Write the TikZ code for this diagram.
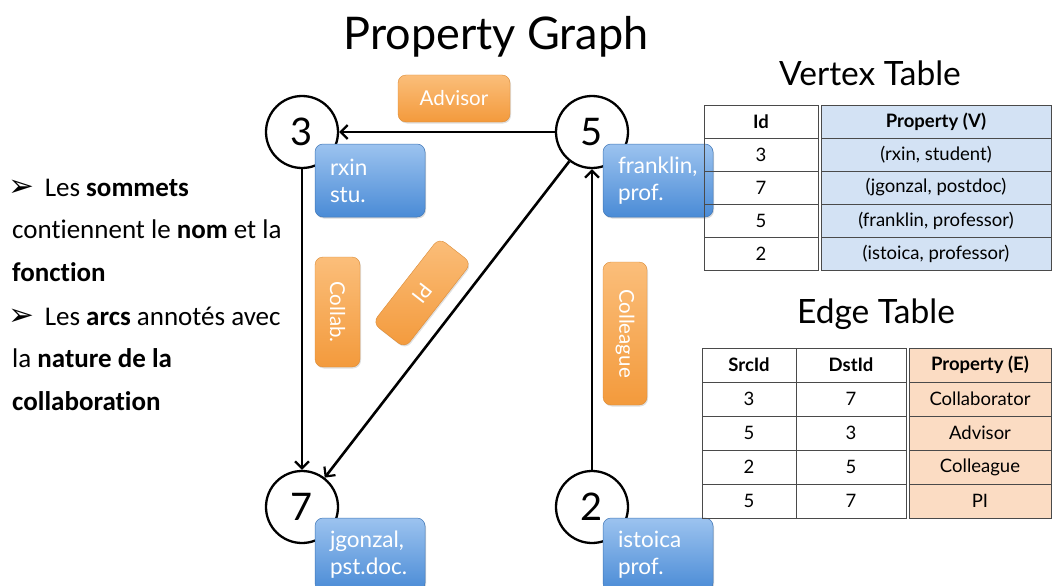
\documentclass[tikz,border=0pt]{standalone}
\usepackage{fontspec}
\setmainfont{Lato}
\newfontfamily\calib{Carlito}[Ligatures=NoCommon]
\newfontfamily\dingfont{DejaVu Sans}
\usetikzlibrary{arrows.meta,shadows,calc}

\definecolor{bluetop}{HTML}{9CC3EF}
\definecolor{bluebot}{HTML}{4A8BD6}
\definecolor{orgtop}{HTML}{FBBE7A}
\definecolor{orgbot}{HTML}{F39A3C}
\definecolor{vfill}{HTML}{D3E2F4}
\definecolor{efill}{HTML}{FBDCC3}
\definecolor{rulecol}{HTML}{4A4A4A}

\tikzset{
  vertex/.style={circle, draw, line width=2.3pt, minimum size=72pt, inner sep=0pt,
    fill=white, font=\fontsize{38}{38}\selectfont},
  propbox/.style={rounded corners=8pt, top color=bluetop, bottom color=bluebot,
    draw=bluebot!85!black, line width=0.5pt, minimum width=110pt, minimum height=73pt,
    inner xsep=15pt, text width=80pt, align=left, text=white,
    font=\fontsize{22.5}{27}\selectfont,
    drop shadow={opacity=0.3, shadow xshift=1pt, shadow yshift=-1.5pt}},
  relbox/.style={rounded corners=8pt, top color=orgtop, bottom color=orgbot,
    draw=orgbot!90!black, line width=0.4pt, inner sep=0pt, text=white,
    font=\fontsize{20.5}{20.5}\selectfont,
    drop shadow={opacity=0.25, shadow xshift=1pt, shadow yshift=-1.5pt}},
  link/.style={line width=2.6pt, -{Straight Barb[length=7pt,width=14pt,line width=2.2pt]}},
  heading/.style={font=\fontsize{45}{45}\selectfont},
  subheading/.style={font=\fontsize{33.5}{33.5}\selectfont},
  cell/.style={font=\fontsize{18.5}{18.5}\selectfont},
  headcell/.style={font=\bfseries\fontsize{18.5}{18.5}\selectfont},
  grid/.style={draw=rulecol, line width=0.8pt},
  bullettext/.style={anchor=base west, inner sep=0pt, font=\calib\fontsize{27}{27}\selectfont},
}

\newcommand{\notemark}{{\dingfont\fontsize{31}{31}\selectfont ➢}}

\begin{document}
\begin{tikzpicture}[x=1pt, y=-1pt]
\useasboundingbox (0,0) rectangle (1053,586);
\clip (0,0) rectangle (1053,586);

% graph title
\node[heading] (title) at (496,37) {Property Graph};

% vertices
\node[vertex] (v3) at (302,132) {3};
\node[vertex] (v5) at (592,132) {5};
\node[vertex] (v7) at (302,507) {7};
\node[vertex] (v2) at (592,507) {2};

% edges
\draw[link] (v5) -- (v3);
\draw[link] (v3) -- (v7);
\draw[link] (v5) -- (v7);
\draw[link] (v2) -- (v5);

% edge labels
\node[relbox, minimum width=112pt, minimum height=47pt] (advisor) at (454,98.5) {Advisor};
\node[relbox, minimum width=110pt, minimum height=45pt, rotate=-90] (collab) at (337.5,312) {Collab.};
\node[relbox, minimum width=108pt, minimum height=41pt, rotate=-128] (pi) at (422,293) {PI};
\node[relbox, minimum width=143pt, minimum height=44pt, rotate=-90] (colleague) at (625,333.5) {Colleague};

% vertex properties
\node[propbox] (p3) at (370,180.5) {rxin\\stu.};
\node[propbox] (p5) at (658,180.5) {franklin,\\prof.};
\node[propbox] (p7) at (370,554.5) {jgonzal,\\pst.doc.};
\node[propbox] (p2) at (658,554.5) {istoica\\prof.};

% left-hand notes
\node[bullettext] (b1) at (8,196) {\notemark\, Les \textbf{sommets}};
\node[bullettext] (b2) at (12,238) {contiennent le \textbf{nom} et la};
\node[bullettext] (b3) at (12,281) {\textbf{fonction}};
\node[bullettext] (b4) at (8,325) {\notemark\, Les \textbf{arcs} annotés avec};
\node[bullettext] (b5) at (12,367) {la \textbf{nature de la}};
\node[bullettext] (b6) at (12,410) {\textbf{collaboration}};

% vertex table
\node[subheading] (vtitle) at (870,73) {Vertex Table};
\fill[vfill] (821,105) rectangle (1051,270);
\draw[grid] (704,105) rectangle (818,270);
\draw[grid] (821,105) rectangle (1051,270);
\foreach \yy in {138,171,204,237} {
  \draw[grid] (704,\yy) -- (818,\yy);
  \draw[grid] (821,\yy) -- (1051,\yy);
}
\node[headcell] (vh1) at (761,121.5) {Id};
\node[headcell] (vh2) at (936,121.5) {Property (V)};
\node[cell] (v31) at (761,154.5) {3};
\node[cell] (v32) at (936,154.5) {(rxin, student)};
\node[cell] (v71) at (761,187.5) {7};
\node[cell] (v72) at (936,187.5) {(jgonzal, postdoc)};
\node[cell] (v51) at (761,220.5) {5};
\node[cell] (v52) at (936,220.5) {(franklin, professor)};
\node[cell] (v21) at (761,253.5) {2};
\node[cell] (v22) at (936,253.5) {(istoica, professor)};

% edge table
\node[subheading] (etitle) at (876,314) {Edge Table};
\fill[efill] (909,348) rectangle (1051,518);
\draw[grid] (702,348) rectangle (906,518);
\draw[grid] (796,348) -- (796,518);
\draw[grid] (909,348) rectangle (1051,518);
\foreach \yy in {382,416,450,484} {
  \draw[grid] (702,\yy) -- (906,\yy);
  \draw[grid] (909,\yy) -- (1051,\yy);
}
\node[headcell] (eh1) at (749,365) {SrcId};
\node[headcell] (eh2) at (851,365) {DstId};
\node[headcell] (eh3) at (980,365) {Property (E)};
\node[cell] (e11) at (749,399) {3};
\node[cell] (e12) at (851,399) {7};
\node[cell] (e13) at (980,399) {Collaborator};
\node[cell] (e21) at (749,433) {5};
\node[cell] (e22) at (851,433) {3};
\node[cell] (e23) at (980,433) {Advisor};
\node[cell] (e31) at (749,467) {2};
\node[cell] (e32) at (851,467) {5};
\node[cell] (e33) at (980,467) {Colleague};
\node[cell] (e41) at (749,501) {5};
\node[cell] (e42) at (851,501) {7};
\node[cell] (e43) at (980,501) {PI};
\end{tikzpicture}
\end{document}
